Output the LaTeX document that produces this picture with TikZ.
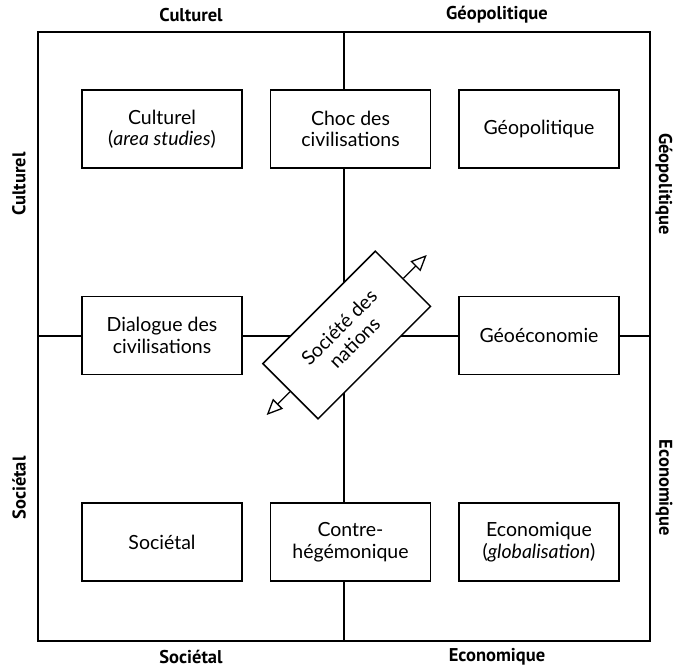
\documentclass[tikz,border=0pt]{standalone}
\usepackage{fontspec}
\setmainfont{Lato}
\newfontfamily\axisfont{PT Sans}
\usetikzlibrary{arrows.meta,calc}
\begin{document}
\begin{tikzpicture}[x=1pt,y=-1pt,
  cell/.style={draw, line width=1.5pt, fill=white, minimum width=160pt,
    minimum height=78pt, inner sep=0pt, align=center,
    font=\fontsize{19.5}{21.5}\selectfont},
  axislabel/.style={font=\axisfont\bfseries\fontsize{18.5}{20}\selectfont, inner sep=0pt},
  frameline/.style={line width=1.4pt},
  pointer/.style={line width=1.3pt, -{Triangle[fill=white, length=16pt, width=14pt, line width=1.3pt]}},
  ]
\useasboundingbox (0,0) rectangle (673,669);

% outer frame and the two axes
\draw[frameline] (38,32) rectangle (650,641);
\coordinate (ftop) at (344,32);
\coordinate (fbot) at (344,641);
\coordinate (fleft) at (38,336);
\coordinate (fright) at (650,336);
\draw[frameline] (ftop) -- (fbot);
\draw[frameline] (fleft) -- (fright);

% axis labels
\node[axislabel] (lt1) at (191,15) {Culturel};
\node[axislabel] (lt2) at (497,15) {Géopolitique};
\node[axislabel] (lb1) at (191,657) {Sociétal};
\node[axislabel] (lb2) at (497,657) {Economique};
\node[axislabel, rotate=90] (ll1) at (19,184) {Culturel};
\node[axislabel, rotate=90] (ll2) at (19,488) {Sociétal};
\node[axislabel, rotate=-90] (lr1) at (664,184) {Géopolitique};
\node[axislabel, rotate=-90] (lr2) at (664,488) {Economique};

% the eight boxes
\node[cell] (cult) at (162,129) {Culturel\\(\textit{area studies})};
\node[cell] (choc) at (350.5,129) {Choc des\\civilisations};
\node[cell] (geop) at (539,129) {Géopolitique};
\node[cell] (dial) at (162,335.5) {Dialogue des\\civilisations};
\node[cell] (geoe) at (539,335.5) {Géoéconomie};
\node[cell] (soc) at (162,542) {Sociétal};
\node[cell] (contre) at (350.5,542) {Contre-\\hégémonique};
\node[cell] (eco) at (539,542) {Economique\\(\textit{globalisation})};

% central tilted box with its two pointers
\node[cell, rotate=45, minimum width=159pt] (sdn) at (346.7,335) {Société des\\nations};
\coordinate (tipne) at ($(sdn.center)!1.41!(sdn.east)$);
\coordinate (tipsw) at ($(sdn.center)!1.41!(sdn.west)$);
\draw[pointer] (sdn.east) -- (tipne);
\draw[pointer] (sdn.west) -- (tipsw);
\end{tikzpicture}
\end{document}
